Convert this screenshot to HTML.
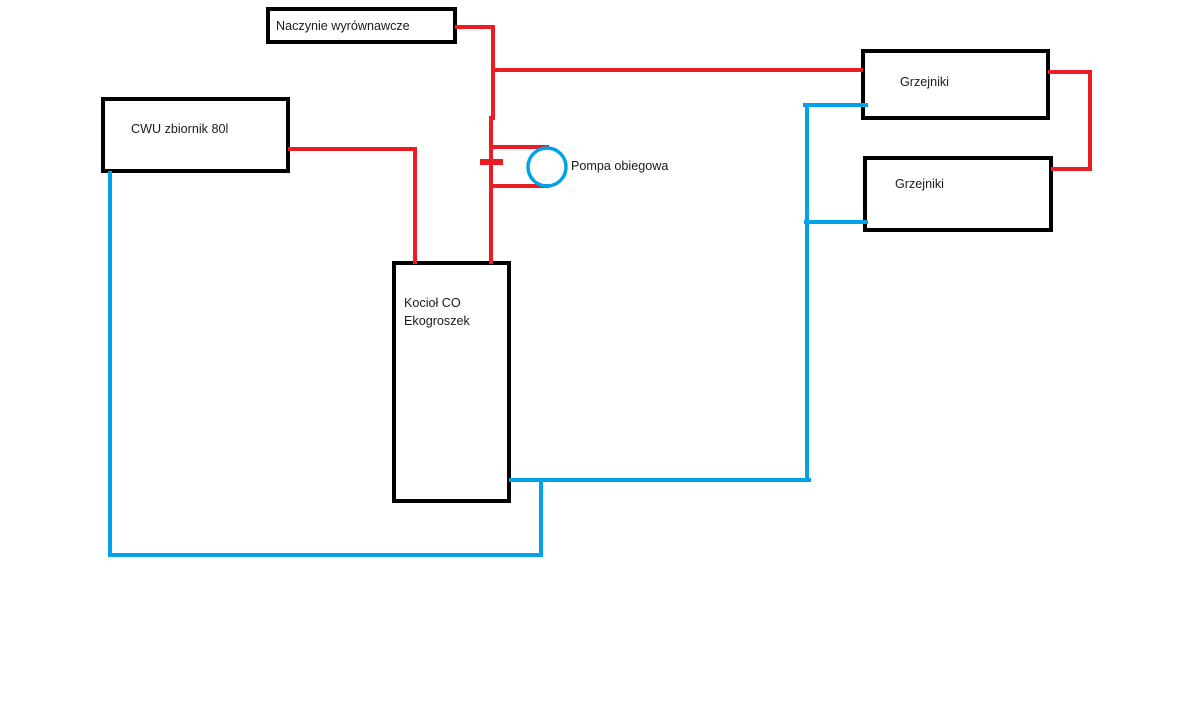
<!DOCTYPE html>
<html>
<head>
<meta charset="utf-8">
<style>
  html, body { margin: 0; padding: 0; background: #fff; }
  svg { display: block; }
  text { font-family: "Liberation Sans", "DejaVu Sans", sans-serif; font-size: 12.6px; fill: #1a1a1a; }
</style>
</head>
<body>
<svg width="1200" height="719" viewBox="0 0 1200 719" xmlns="http://www.w3.org/2000/svg">
  <rect x="0" y="0" width="1200" height="719" fill="#fff"/>

  <!-- Boxes -->
  <g fill="#fff" stroke="#000" stroke-width="4">
    <rect x="268" y="9" width="187" height="33"/>
    <rect x="103" y="99" width="185" height="72"/>
    <rect x="394" y="263" width="115" height="238"/>
    <rect x="863" y="51" width="185" height="67"/>
    <rect x="865" y="158" width="186" height="72"/>
  </g>

  <!-- Red lines -->
  <g fill="none" stroke="#ed1c24" stroke-width="4" stroke-linecap="square">
    <polyline points="457,27 493,27 493,118"/>
    <line x1="493" y1="70" x2="861" y2="70"/>
    <line x1="491" y1="118" x2="491" y2="262"/>
    <polyline points="290,149 415,149 415,262"/>
    <line x1="491" y1="147" x2="547" y2="147"/>
    <line x1="491" y1="186" x2="547" y2="186"/>
    <polyline points="1050,72 1090,72 1090,169 1053,169"/>
  </g>
  <rect x="480" y="159" width="23" height="6" fill="#ed1c24"/>

  <!-- Pump circle -->
  <ellipse cx="547" cy="167" rx="19" ry="19" fill="none" stroke="#00a2e8" stroke-width="3.5"/>

  <!-- Blue lines -->
  <g fill="none" stroke="#00a2e8" stroke-width="4" stroke-linecap="square">
    <polyline points="110,173 110,555 541,555 541,480"/>
    <line x1="511" y1="480" x2="809" y2="480"/>
    <line x1="807" y1="105" x2="807" y2="480"/>
    <line x1="805" y1="105" x2="866" y2="105"/>
    <line x1="806" y1="222" x2="866" y2="222"/>
  </g>

  <!-- Labels -->
  <text x="276" y="30">Naczynie wyrównawcze</text>
  <text x="131" y="133">CWU zbiornik 80l</text>
  <text x="571" y="170">Pompa obiegowa</text>
  <text x="404" y="307">Kocioł CO</text>
  <text x="404" y="325">Ekogroszek</text>
  <text x="900" y="86">Grzejniki</text>
  <text x="895" y="188">Grzejniki</text>
</svg>
</body>
</html>
